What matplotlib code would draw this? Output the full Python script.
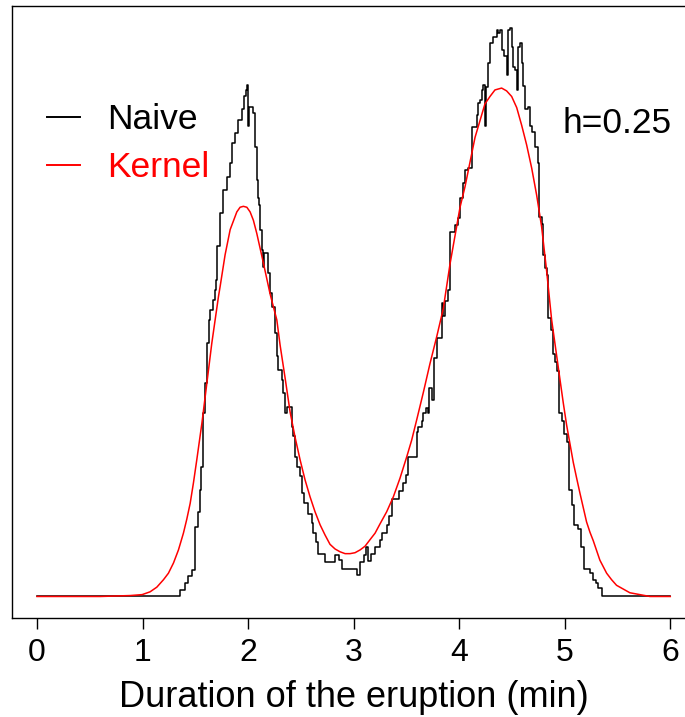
import matplotlib
matplotlib.use("Agg")
import matplotlib.pyplot as plt

plt.rcParams['font.family'] = ['Liberation Sans', 'DejaVu Sans']

# Naive (box) estimator: step start positions (min) and density levels
naive_x = [0.000, 1.351, 1.403, 1.427, 1.465, 1.498, 1.529, 1.541, 1.555, 1.571,
           1.593, 1.615, 1.631, 1.640, 1.666, 1.683, 1.697, 1.706, 1.735, 1.766,
           1.798, 1.830, 1.846, 1.877, 1.908, 1.940, 1.962, 1.981, 1.993, 2.000,
           2.009, 2.045, 2.066, 2.088, 2.098, 2.107, 2.114, 2.128, 2.142, 2.152,
           2.192, 2.208, 2.227, 2.256, 2.272, 2.287, 2.319, 2.334, 2.350, 2.372,
           2.414, 2.429, 2.445, 2.467, 2.492, 2.509, 2.530, 2.571, 2.603, 2.618,
           2.644, 2.666, 2.729, 2.824, 2.865, 2.887, 3.032, 3.061, 3.094, 3.117,
           3.136, 3.160, 3.203, 3.250, 3.266, 3.313, 3.335, 3.361, 3.430, 3.471,
           3.496, 3.518, 3.598, 3.613, 3.645, 3.660, 3.686, 3.707, 3.717, 3.747,
           3.764, 3.787, 3.834, 3.849, 3.866, 3.897, 3.913, 3.960, 3.991, 4.008,
           4.033, 4.055, 4.086, 4.118, 4.166, 4.181, 4.197, 4.213, 4.228, 4.244,
           4.254, 4.270, 4.292, 4.323, 4.355, 4.370, 4.386, 4.402, 4.427, 4.450,
           4.465, 4.481, 4.497, 4.512, 4.528, 4.545, 4.560, 4.576, 4.592, 4.607,
           4.623, 4.654, 4.670, 4.687, 4.718, 4.743, 4.756, 4.781, 4.796, 4.817,
           4.829, 4.844, 4.866, 4.891, 4.907, 4.929, 4.948, 4.971, 4.992, 5.018,
           5.043, 5.065, 5.090, 5.128, 5.151, 5.182, 5.239, 5.264, 5.295, 5.317,
           5.349, 6.000]
naive_y = [0.000, 0.007, 0.015, 0.022, 0.028, 0.075, 0.091, 0.114, 0.139, 0.197,
           0.229, 0.272, 0.297, 0.308, 0.318, 0.329, 0.340, 0.376, 0.412, 0.437,
           0.451, 0.466, 0.487, 0.498, 0.512, 0.523, 0.537, 0.544, 0.549, 0.505,
           0.526, 0.519, 0.483, 0.447, 0.428, 0.420, 0.394, 0.372, 0.354, 0.369,
           0.347, 0.326, 0.311, 0.283, 0.258, 0.243, 0.233, 0.219, 0.197, 0.204,
           0.182, 0.172, 0.150, 0.139, 0.129, 0.111, 0.100, 0.089, 0.079, 0.068,
           0.059, 0.046, 0.037, 0.045, 0.039, 0.030, 0.023, 0.037, 0.045, 0.053,
           0.038, 0.046, 0.053, 0.061, 0.068, 0.077, 0.086, 0.105, 0.113, 0.122,
           0.130, 0.150, 0.177, 0.182, 0.188, 0.197, 0.202, 0.197, 0.224, 0.211,
           0.256, 0.278, 0.315, 0.301, 0.317, 0.329, 0.391, 0.399, 0.407, 0.428,
           0.444, 0.458, 0.460, 0.504, 0.517, 0.530, 0.533, 0.544, 0.549, 0.505,
           0.547, 0.573, 0.594, 0.601, 0.608, 0.605, 0.608, 0.587, 0.580, 0.560,
           0.608, 0.610, 0.590, 0.569, 0.565, 0.544, 0.590, 0.594, 0.573, 0.548,
           0.523, 0.526, 0.505, 0.499, 0.483, 0.465, 0.408, 0.400, 0.367, 0.353,
           0.345, 0.299, 0.286, 0.260, 0.252, 0.242, 0.197, 0.188, 0.175, 0.166,
           0.114, 0.098, 0.077, 0.073, 0.053, 0.030, 0.025, 0.018, 0.014, 0.009,
           0.000, 0.000]

# Gaussian kernel estimate
kernel_x = [0.000, 0.600, 0.883, 0.996, 1.071, 1.135, 1.198, 1.245, 1.293, 1.340,
            1.387, 1.419, 1.451, 1.482, 1.514, 1.562, 1.609, 1.656, 1.719, 1.735,
            1.782, 1.830, 1.893, 1.924, 1.955, 1.988, 2.019, 2.050, 2.082, 2.145,
            2.208, 2.272, 2.303, 2.350, 2.398, 2.445, 2.492, 2.540, 2.587, 2.634,
            2.682, 2.729, 2.776, 2.824, 2.871, 2.919, 2.966, 3.013, 3.061, 3.108,
            3.155, 3.203, 3.250, 3.313, 3.376, 3.439, 3.503, 3.550, 3.598, 3.660,
            3.723, 3.787, 3.849, 3.913, 4.008, 4.055, 4.150, 4.244, 4.292, 4.339,
            4.402, 4.449, 4.497, 4.545, 4.592, 4.639, 4.687, 4.734, 4.781, 4.829,
            4.876, 4.955, 4.986, 5.018, 5.081, 5.113, 5.144, 5.207, 5.239, 5.270,
            5.333, 5.365, 5.397, 5.444, 5.491, 5.554, 5.617, 5.712, 5.807, 6.000]
kernel_y = [0.000, 0.000, 0.001, 0.002, 0.005, 0.010, 0.018, 0.025, 0.036, 0.050,
            0.068, 0.083, 0.100, 0.122, 0.147, 0.186, 0.229, 0.272, 0.322, 0.333,
            0.367, 0.394, 0.413, 0.418, 0.419, 0.418, 0.413, 0.404, 0.390, 0.358,
            0.325, 0.297, 0.270, 0.235, 0.198, 0.171, 0.147, 0.125, 0.107, 0.091,
            0.077, 0.066, 0.056, 0.051, 0.048, 0.046, 0.046, 0.047, 0.050, 0.054,
            0.061, 0.068, 0.078, 0.091, 0.107, 0.127, 0.150, 0.168, 0.190, 0.219,
            0.250, 0.279, 0.309, 0.357, 0.418, 0.440, 0.493, 0.529, 0.537, 0.544,
            0.546, 0.543, 0.537, 0.525, 0.506, 0.485, 0.460, 0.431, 0.397, 0.349,
            0.297, 0.233, 0.208, 0.184, 0.144, 0.127, 0.111, 0.080, 0.069, 0.060,
            0.039, 0.032, 0.025, 0.018, 0.012, 0.008, 0.004, 0.002, 0.000, 0.000]

xticks = [0, 1, 2, 3, 4, 5, 6]
xlabel = "Duration of the eruption (min)"
labels = ["Naive", "Kernel"]
annot = "h=0.25"

fig = plt.figure(figsize=(6.85, 7.17), dpi=100)
ax = fig.add_axes([0.01708, 0.1377, 0.9984, 0.8544])

ax.plot(naive_x, naive_y, color='black', lw=1.1, drawstyle='steps-post', label=labels[0])
ax.plot(kernel_x, kernel_y, color='red', lw=1.1, label=labels[1])

ax.set_xlim(-0.24, 6.24)
ax.set_ylim(-0.0234, 0.6345)
ax.set_yticks([])
ax.set_xticks(xticks)
ax.set_xticklabels([str(t) for t in xticks])
ax.tick_params(axis='x', length=8, width=1.0, pad=6, labelsize=23)
for s in ax.spines.values():
    s.set_linewidth(1.0)
ax.set_xlabel(xlabel, fontsize=26, labelpad=9)

leg = ax.legend(loc='center left', bbox_to_anchor=(0.051, 0.7747), frameon=False,
                fontsize=25.5, handlelength=0.93, handletextpad=0.79,
                labelspacing=0.42, borderpad=0, borderaxespad=0,
                labelcolor='linecolor')
for ln in leg.get_lines():
    ln.set_linewidth(1.4)

ax.text(0.965, 0.7917, annot, transform=ax.transAxes, ha='right', va='baseline',
        fontsize=25.5)

fig.savefig('out.png', dpi=100)
